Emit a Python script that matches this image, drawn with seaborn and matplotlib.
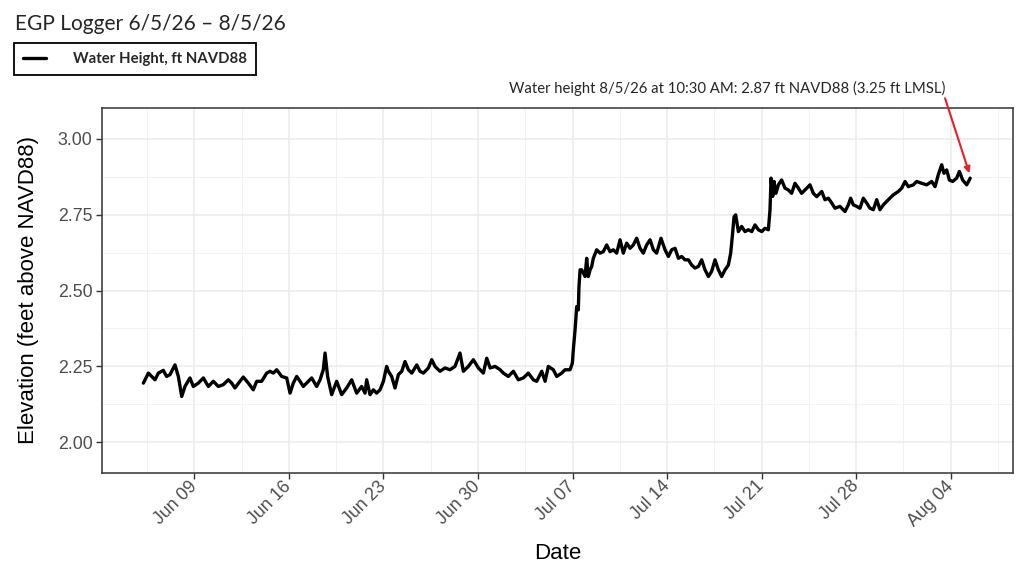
import pandas as pd
import matplotlib.pyplot as plt
import matplotlib.dates as mdates
import seaborn as sns

start = pd.Timestamp("2026-06-05")

# days since Jun 5 00:00
days = [0.23, 0.60, 0.84, 1.09, 1.34, 1.71, 1.95, 2.20, 2.57, 2.82, 3.07, 3.31, 3.68, 3.93,
        4.30, 4.67, 5.04, 5.41, 5.78, 6.15, 6.52, 6.77, 7.01, 7.38, 7.63, 8.00, 8.37, 8.62,
        8.99, 9.36, 9.61, 9.85, 10.10, 10.47, 10.84, 11.09, 11.33, 11.58, 11.83, 12.07, 12.44,
        12.69, 13.06, 13.31, 13.55, 13.68, 13.87, 14.17, 14.54, 14.91, 15.28, 15.65, 16.02,
        16.39, 16.64,
        16.76, 17.01, 17.26, 17.50, 17.75, 18.00, 18.24, 18.37, 18.61, 18.86, 19.11, 19.36,
        19.60, 19.85, 20.10, 20.47, 20.71, 20.96, 21.33, 21.58, 21.82, 22.19, 22.56, 22.93,
        23.30, 23.67, 23.92, 24.29, 24.66, 25.03, 25.40, 25.65, 25.90, 26.27, 26.64, 26.88,
        27.25, 27.62, 27.99, 28.36, 28.73, 29.10, 29.35, 29.72, 29.97, 30.21, 30.58, 30.83,
        31.20,
        31.45, 31.82, 31.99, 32.06, 32.19, 32.31, 32.43, 32.48, 32.56, 32.68, 32.93, 33.05,
        33.17, 33.30, 33.42, 33.54, 33.79, 34.04, 34.28, 34.53, 34.78, 35.02, 35.27, 35.52,
        35.76, 36.01, 36.26, 36.50, 36.75, 37.00, 37.24, 37.49, 37.74, 37.99, 38.23, 38.55,
        38.85, 39.10, 39.34, 39.59, 39.84, 40.08, 40.33, 40.58, 40.82, 41.07, 41.32, 41.56,
        41.81, 42.06, 42.30, 42.55, 42.80, 43.04, 43.29, 43.54, 43.71, 43.83, 43.96, 44.08,
        44.28, 44.52, 44.77, 45.02, 45.27, 45.51, 45.76, 46.01, 46.25, 46.50, 46.62, 46.70,
        46.82, 46.92, 47.06, 47.24, 47.48, 47.73, 47.98, 48.22, 48.47, 48.72, 48.96, 49.21,
        49.58, 49.83, 50.08, 50.45, 50.69, 50.94, 51.19, 51.43, 51.80, 52.17, 52.42, 52.59,
        52.79, 53.04, 53.28, 53.53, 53.78, 54.02, 54.27, 54.52, 54.76, 55.01, 55.38, 55.75,
        56.12, 56.37, 56.62, 56.86, 57.23, 57.48, 57.85, 58.22, 58.59, 58.84, 59.08, 59.33,
        59.50, 59.70, 59.90, 60.14, 60.44, 60.64, 60.88, 61.18, 61.38, 61.44]

height = [2.195, 2.228, 2.217, 2.206, 2.228, 2.237, 2.217, 2.223, 2.255, 2.217, 2.151, 2.184,
          2.212, 2.184, 2.195, 2.212, 2.184, 2.201, 2.184, 2.190, 2.206, 2.195, 2.179, 2.201,
          2.215, 2.195, 2.173, 2.201, 2.201, 2.228, 2.234, 2.228, 2.239, 2.217, 2.212, 2.162,
          2.195, 2.217, 2.201, 2.184, 2.201, 2.212, 2.184, 2.206, 2.239, 2.294, 2.217, 2.157,
          2.201, 2.157, 2.179, 2.206, 2.162, 2.184, 2.162,
          2.206, 2.157, 2.173, 2.162, 2.173, 2.201, 2.250, 2.234, 2.217, 2.179, 2.223, 2.234,
          2.266, 2.239, 2.228, 2.255, 2.234, 2.228, 2.245, 2.272, 2.250, 2.234, 2.245, 2.239,
          2.250, 2.294, 2.234, 2.250, 2.272, 2.245, 2.228, 2.277, 2.245, 2.250, 2.239, 2.228,
          2.217, 2.234, 2.206, 2.212, 2.228, 2.206, 2.201, 2.234, 2.201, 2.250, 2.239, 2.217,
          2.228,
          2.239, 2.239, 2.261, 2.305, 2.371, 2.447, 2.436, 2.513, 2.568, 2.568, 2.546, 2.606,
          2.546, 2.568, 2.579, 2.606, 2.634, 2.623, 2.628, 2.650, 2.628, 2.634, 2.623, 2.667,
          2.623, 2.656, 2.639, 2.650, 2.672, 2.639, 2.623, 2.650, 2.667, 2.634, 2.623, 2.672,
          2.634, 2.612, 2.634, 2.639, 2.606, 2.612, 2.601, 2.601, 2.584, 2.574, 2.579, 2.601,
          2.568, 2.546, 2.563, 2.601, 2.568, 2.546, 2.568, 2.584, 2.623, 2.678, 2.743, 2.749,
          2.694, 2.711, 2.694, 2.700, 2.694, 2.716, 2.700, 2.694, 2.705, 2.700, 2.765, 2.870,
          2.810, 2.859, 2.820, 2.848, 2.864, 2.837, 2.831, 2.820, 2.853, 2.837, 2.820, 2.831,
          2.848, 2.820, 2.809, 2.826, 2.799, 2.804, 2.788, 2.771, 2.777, 2.760, 2.782, 2.804,
          2.782, 2.777, 2.771, 2.804, 2.788, 2.771, 2.766, 2.799, 2.766, 2.782, 2.799, 2.815,
          2.826, 2.837, 2.859, 2.842, 2.848, 2.859, 2.853, 2.848, 2.859, 2.842, 2.881, 2.914,
          2.886, 2.897, 2.864, 2.859, 2.870, 2.892, 2.864, 2.848, 2.864, 2.870]

y_ticks = [2.00, 2.25, 2.50, 2.75, 3.00]
y_minor = [2.125, 2.375, 2.625, 2.875]
week_ticks = pd.date_range("2026-06-09", "2026-08-04", freq="7D")
minor_ticks = pd.date_range("2026-06-05 12:00", "2026-08-07 12:00", freq="7D")

df = pd.DataFrame({"time": start + pd.to_timedelta(days, unit="D"), "height": height})

sns.set_theme(style="whitegrid")
plt.rcParams["font.family"] = ["Liberation Sans", "DejaVu Sans"]

fig = plt.figure(figsize=(10.24, 5.75), dpi=100)
ax = fig.add_axes([102.3 / 1024, 1 - 472.7 / 575, 910.7 / 1024, 364.4 / 575])

sns.lineplot(data=df, x="time", y="height", color="black", linewidth=2.4,
             label="Water Height, ft NAVD88", ax=ax)

ax.set_xlim(start - pd.Timedelta(days=2.81), start + pd.Timedelta(days=64.61))
ax.set_ylim(1.90, 3.10)
ax.set_yticks(y_ticks)
ax.set_yticks(y_minor, minor=True)
ax.set_xticks(week_ticks)
ax.set_xticks(minor_ticks, minor=True)
ax.xaxis.set_major_formatter(mdates.DateFormatter("%b %d"))
ax.yaxis.set_major_formatter(plt.FormatStrFormatter("%.2f"))

ax.set_facecolor("white")
ax.grid(which="major", color="#EBEBEB", linewidth=1.1)
ax.grid(which="minor", color="#F2F2F2", linewidth=0.7)
ax.set_axisbelow(True)
for s in ax.spines.values():
    s.set_color("#333333")
    s.set_linewidth(1.1)

ax.tick_params(axis="both", which="major", length=4, width=1.0, color="#333333",
               labelsize=12.8, labelcolor="#4D4D4D", bottom=True, left=True)
ax.tick_params(axis="both", which="minor", length=0)
ax.tick_params(axis="x", pad=4)
ax.tick_params(axis="y", pad=3)
plt.setp(ax.get_xticklabels(), rotation=45, ha="right", va="center", rotation_mode="anchor")

ax.set_xlabel("Date", fontsize=16, color="black")
ax.set_ylabel("Elevation (feet above NAVD88)", fontsize=16, color="black")
ax.xaxis.set_label_coords(0.5, -0.193)
ax.xaxis.label.set_va("top")
ax.yaxis.set_label_coords(-0.07, 0.5)

leg = ax.legend(loc="upper left", bbox_to_anchor=(14 / 1024, 1 - 43 / 575),
                bbox_transform=fig.transFigure, borderaxespad=0, frameon=True,
                fancybox=False, edgecolor="black", framealpha=1, borderpad=0.6,
                handlelength=1.55, handletextpad=1.85,
                prop={"family": "Lato", "weight": "bold", "size": 10.7})
leg.get_frame().set_linewidth(1.3)

fig.text(15 / 1024, 1 - 30 / 575, "EGP Logger 6/5/26 \u2013 8/5/26", family="Lato",
         fontsize=15, va="baseline", ha="left")
fig.text(509 / 1024, 1 - 92.7 / 575,
         "Water height 8/5/26 at 10:30 AM: 2.87 ft NAVD88 (3.25 ft LMSL)",
         family="Lato", fontsize=10.7, va="baseline", ha="left")

head = mdates.date2num(start + pd.Timedelta(days=61.38))
tail = mdates.date2num(start + pd.Timedelta(days=59.58))
ax.annotate("", xy=(head, 2.886), xytext=(tail, 3.133), annotation_clip=False,
            arrowprops=dict(arrowstyle="-|>", color="#E4202A", lw=1.5, mutation_scale=9,
                            shrinkA=0, shrinkB=0))

plt.savefig("out.png", dpi=100)
